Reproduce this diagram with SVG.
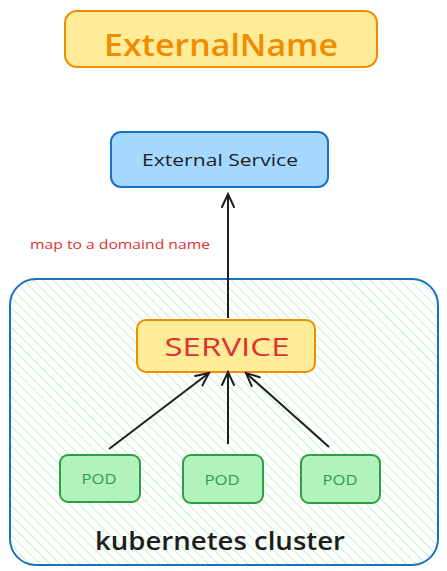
<svg xmlns="http://www.w3.org/2000/svg" width="447" height="571" viewBox="0 0 447 571">
<style>
.t{font-family:"Open Sans","Liberation Sans",sans-serif;text-anchor:middle;dominant-baseline:central}
.y{fill:#ffec99;stroke:#f08c00;stroke-width:2}
.b{fill:#a5d8ff;stroke:#1971c2;stroke-width:2}
.g{fill:#b2f2bb;stroke:#2f9e44;stroke-width:2}
.c{stroke:#1e1e1e;stroke-width:2;fill:none;marker-end:url(#ah)}
</style>
<defs>
<pattern id="hatch" width="7" height="7" patternUnits="userSpaceOnUse" patternTransform="rotate(-45)">
<line x1="0" y1="0" x2="0" y2="7" stroke="#b2f2bb" stroke-width="1.6"/>
</pattern>
<marker id="ah" markerWidth="16" markerHeight="16" refX="14" refY="8" orient="auto" markerUnits="userSpaceOnUse">
<path d="M1,2 L14,8 L1,14" fill="none" stroke="#1e1e1e" stroke-width="2" stroke-linecap="round"/>
</marker>
</defs>
<g id="cluster">
<rect x="10" y="279" width="428" height="286" rx="26" fill="url(#hatch)" stroke="#1971c2" stroke-width="2"/>
<text class="t" x="220" y="540" font-size="25" font-weight="600" fill="#1e1e1e" textLength="250" lengthAdjust="spacingAndGlyphs">kubernetes cluster</text>
</g>
<g id="externalname">
<rect class="y" x="65" y="11" width="312" height="56" rx="12"/>
<text class="t" x="221" y="44" font-size="31" font-weight="600" fill="#f08c00" textLength="234" lengthAdjust="spacingAndGlyphs">ExternalName</text>
</g>
<g id="external-service">
<rect class="b" x="111" y="132" width="217" height="55" rx="10"/>
<text class="t" x="220" y="159" font-size="17" fill="#1e1e1e" textLength="156" lengthAdjust="spacingAndGlyphs">External Service</text>
</g>
<g id="label">
<text x="30" y="244" font-family="'Open Sans','Liberation Sans',sans-serif" font-size="12" fill="#e03131" dominant-baseline="central" textLength="180" lengthAdjust="spacingAndGlyphs">map to a domaind name</text>
</g>
<g id="service">
<rect class="y" x="137" y="320" width="178" height="52" rx="9"/>
<text class="t" x="227" y="346" font-size="25" fill="#e03131" textLength="125" lengthAdjust="spacingAndGlyphs">SERVICE</text>
</g>
<g id="pod1">
<rect class="g" x="60" y="455" width="80" height="47" rx="8"/>
<text class="t" x="99" y="478" font-size="14" fill="#2f9e44" textLength="35" lengthAdjust="spacingAndGlyphs">POD</text>
</g>
<g id="pod2">
<rect class="g" x="183" y="455" width="80" height="48" rx="8"/>
<text class="t" x="222" y="479" font-size="14" fill="#2f9e44" textLength="35" lengthAdjust="spacingAndGlyphs">POD</text>
</g>
<g id="pod3">
<rect class="g" x="301" y="455" width="79" height="48" rx="8"/>
<text class="t" x="340" y="479" font-size="14" fill="#2f9e44" textLength="35" lengthAdjust="spacingAndGlyphs">POD</text>
</g>
<g id="connectors">
<path class="c" d="M228,318 L228,194"/>
<path class="c" d="M109,449 L209,373"/>
<path class="c" d="M228,444 L228,372"/>
<path class="c" d="M329,447 L246,373"/>
</g>
</svg>
